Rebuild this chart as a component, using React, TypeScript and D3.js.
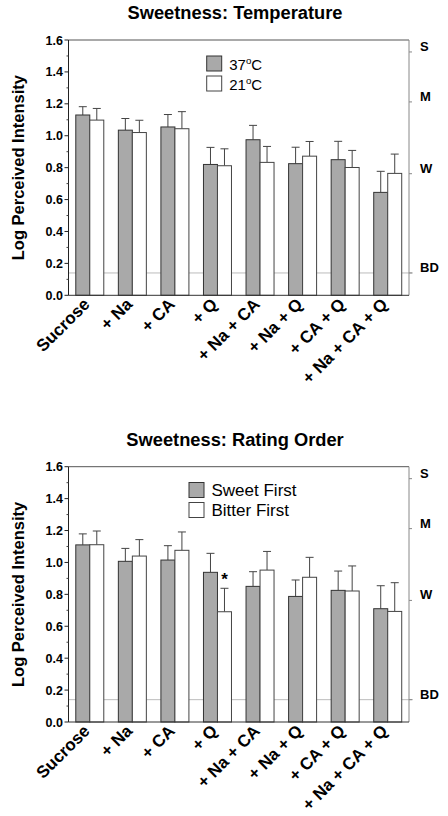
import React from "react";
import * as d3 from "d3";

const categories = ["Sucrose", "+ Na", "+ CA", "+ Q", "+ Na + CA", "+ Na + Q", "+ CA + Q", "+ Na + CA + Q"];

// Panel 1: Temperature
const temp37 = [1.13, 1.035, 1.055, 0.82, 0.975, 0.825, 0.85, 0.645];
const temp37Err = [0.052, 0.073, 0.078, 0.107, 0.09, 0.103, 0.115, 0.132];
const temp21 = [1.098, 1.02, 1.044, 0.812, 0.833, 0.872, 0.801, 0.764];
const temp21Err = [0.073, 0.077, 0.107, 0.106, 0.1, 0.092, 0.107, 0.121];

// Panel 2: Rating order
const sweetFirst = [1.11, 1.007, 1.015, 0.938, 0.85, 0.787, 0.825, 0.71];
const sweetFirstErr = [0.069, 0.081, 0.09, 0.119, 0.092, 0.103, 0.121, 0.144];
const bitterFirst = [1.111, 1.04, 1.076, 0.691, 0.952, 0.907, 0.821, 0.693];
const bitterFirstErr = [0.086, 0.103, 0.115, 0.147, 0.117, 0.125, 0.157, 0.18];

const yTicks = [0, 0.2, 0.4, 0.6, 0.8, 1.0, 1.2, 1.4, 1.6];
const yMinorTicks = [0.1, 0.3, 0.5, 0.7, 0.9, 1.1, 1.3, 1.5];
const scaleLabels = ["S", "M", "W", "BD"];
const scaleValues = [1.525, 1.212, 0.762, 0.14];

const FONT = "'Liberation Sans', Arial, Helvetica, sans-serif";
const GRAY = "#a9a9a9";

type PanelProps = {
  top: number;
  title: string;
  legend: [string | React.ReactNode, string | React.ReactNode];
  legendX: number;
  legendY: number;
  legendFont: number;
  grayVals: number[];
  grayErr: number[];
  whiteVals: number[];
  whiteErr: number[];
  stars?: number[]; // indices of white bars with asterisk
};

function Panel(p: PanelProps) {
  const left = 68.5;
  const right = 409;
  const plotTop = p.top;
  const plotBottom = p.top + 255.3;
  const x = d3.scaleBand<string>().domain(categories).range([left, right]);
  const y = d3.scaleLinear().domain([0, 1.6]).range([plotBottom, plotTop]);
  const bw = 14;
  const cap = 4;
  const fmt = d3.format(".1f");
  const bd = scaleValues[3];

  return (
    <g>
      <text x={235} y={plotTop - 21} textAnchor="middle" fontFamily={FONT} fontWeight="bold" fontSize={18.3}>
        {p.title}
      </text>
      <text
        transform={`translate(24,${(plotTop + plotBottom) / 2}) rotate(-90)`}
        textAnchor="middle"
        fontFamily={FONT}
        fontWeight="bold"
        fontSize={16.5}
      >
        Log Perceived Intensity
      </text>
      {/* BD dotted line */}
      <line x1={left} x2={right + 4} y1={y(bd)} y2={y(bd)} stroke="#777" strokeWidth={1} strokeDasharray="1,1" />
      {/* frame */}
      <line x1={left} x2={right} y1={plotTop} y2={plotTop} stroke="#555" strokeWidth={1} />
      <line x1={right} x2={right} y1={plotTop} y2={plotBottom} stroke="#888" strokeWidth={1} />
      {/* bars */}
      {categories.map((c, i) => {
        const cx = (x(c) as number) + x.bandwidth() / 2;
        const gx = cx - bw;
        const wx = cx;
        const gTop = y(p.grayVals[i]);
        const wTop = y(p.whiteVals[i]);
        const gErr = y(p.grayVals[i] + p.grayErr[i]);
        const wErr = y(p.whiteVals[i] + p.whiteErr[i]);
        return (
          <g key={c}>
            <line x1={gx + bw / 2} x2={gx + bw / 2} y1={gTop} y2={gErr} stroke="#444" strokeWidth={1} />
            <line x1={gx + bw / 2 - cap} x2={gx + bw / 2 + cap} y1={gErr} y2={gErr} stroke="#444" strokeWidth={1} />
            <line x1={wx + bw / 2} x2={wx + bw / 2} y1={wTop} y2={wErr} stroke="#444" strokeWidth={1} />
            <line x1={wx + bw / 2 - cap} x2={wx + bw / 2 + cap} y1={wErr} y2={wErr} stroke="#444" strokeWidth={1} />
            <rect x={gx} y={gTop} width={bw} height={plotBottom - gTop} fill={GRAY} stroke="#333" strokeWidth={1} />
            <rect x={wx} y={wTop} width={bw} height={plotBottom - wTop} fill="#fff" stroke="#444" strokeWidth={1} />
            {p.stars && p.stars.includes(i) ? (
              <text x={wx + bw / 2} y={wErr - 3} textAnchor="middle" fontFamily={FONT} fontWeight="bold" fontSize={17}>
                *
              </text>
            ) : null}
          </g>
        );
      })}
      {/* left axis */}
      <line x1={left} x2={left} y1={plotTop} y2={plotBottom} stroke="#222" strokeWidth={1} />
      <line x1={left} x2={right} y1={plotBottom} y2={plotBottom} stroke="#333" strokeWidth={1} />
      {yTicks.map((t) => (
        <g key={t}>
          <line x1={left - 4} x2={left} y1={y(t)} y2={y(t)} stroke="#222" />
          <text x={left - 5.5} y={y(t)} dy="0.36em" textAnchor="end" fontFamily={FONT} fontWeight="bold" fontSize={12.5}>
            {fmt(t)}
          </text>
        </g>
      ))}
      {yMinorTicks.map((t) => (
        <line key={t} x1={left - 2} x2={left} y1={y(t)} y2={y(t)} stroke="#444" />
      ))}
      {/* right scale */}
      {scaleLabels.map((l, i) => (
        <g key={l}>
          <line x1={right} x2={right + 3} y1={y(scaleValues[i])} y2={y(scaleValues[i])} stroke="#888" />
          <text x={420} y={y(scaleValues[i]) - 1} fontFamily={FONT} fontWeight="bold" fontSize={13}>
            {l}
          </text>
        </g>
      ))}
      {/* x labels */}
      {categories.map((c) => {
        const cx = (x(c) as number) + x.bandwidth() / 2;
        return (
          <text
            key={c}
            transform={`translate(${cx + 1},${plotBottom + 10}) rotate(-45)`}
            textAnchor="end"
            fontFamily={FONT}
            fontWeight="bold"
            fontSize={17}
          >
            {c}
          </text>
        );
      })}
      {/* legend */}
      <rect x={p.legendX} y={p.legendY} width={15} height={15} fill={GRAY} stroke="#333" />
      <rect x={p.legendX} y={p.legendY + 20} width={15} height={15} fill="#fff" stroke="#444" />
      <text x={p.legendX + 22.5} y={p.legendY + 13.5} fontFamily={FONT} fontSize={p.legendFont}>
        {p.legend[0]}
      </text>
      <text x={p.legendX + 22.5} y={p.legendY + 33.5} fontFamily={FONT} fontSize={p.legendFont}>
        {p.legend[1]}
      </text>
    </g>
  );
}

function Deg({ t }: { t: string }) {
  return (
    <>
      {t}
      <tspan fontSize="0.65em" dy="-0.55em">o</tspan>
      <tspan dy="0.36em">C</tspan>
    </>
  );
}

export default function App() {
  return (
    <svg width={448} height={816} style={{ position: "absolute", left: 0, top: 0, background: "#fff" }}>
      <Panel
        top={40}
        title="Sweetness: Temperature"
        legend={[<Deg key="a" t="37" />, <Deg key="b" t="21" />]}
        legendX={206.7}
        legendY={56}
        legendFont={15}
        grayVals={temp37}
        grayErr={temp37Err}
        whiteVals={temp21}
        whiteErr={temp21Err}
      />
      <Panel
        top={466.7}
        title="Sweetness: Rating Order"
        legend={["Sweet First", "Bitter First"]}
        legendX={189}
        legendY={482.5}
        legendFont={17}
        grayVals={sweetFirst}
        grayErr={sweetFirstErr}
        whiteVals={bitterFirst}
        whiteErr={bitterFirstErr}
        stars={[3]}
      />
    </svg>
  );
}
